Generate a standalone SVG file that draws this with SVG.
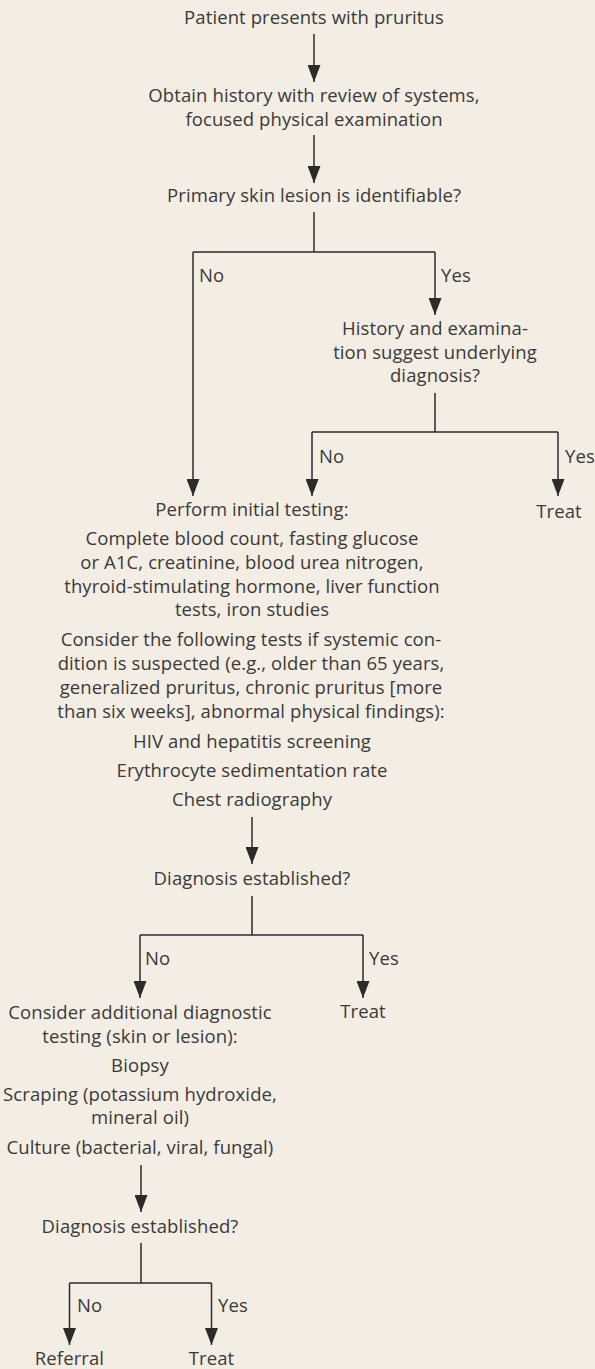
<svg xmlns="http://www.w3.org/2000/svg" width="595" height="1369" viewBox="0 0 595 1369">
<defs>
<style>
text{font-family:"Open Sans","Liberation Sans",sans-serif;font-size:18.5px;letter-spacing:0.1px;fill:#3a3a3a}
.c{text-anchor:middle}
.ln{stroke:#2b2b2b;stroke-width:1.5;fill:none}
.ar{stroke:#2b2b2b;stroke-width:1.5;fill:none;marker-end:url(#ah)}
</style>
<marker id="ah" markerUnits="userSpaceOnUse" viewBox="0 0 17 13" refX="17" refY="6.5" markerWidth="17" markerHeight="13" orient="auto">
<path d="M0,0 L17,6.5 L0,13 z" fill="#2b2b2b"/>
</marker>
</defs>
<rect width="595" height="1369" fill="#f3ede4"/>
<g id="connectors">
<line class="ar" x1="314" y1="34" x2="314" y2="82"/>
<line class="ar" x1="314" y1="135" x2="314" y2="183"/>
<path class="ln" d="M314,212 V252 M193,252 H435"/>
<line class="ar" x1="193" y1="252" x2="193" y2="496"/>
<line class="ar" x1="435" y1="252" x2="435" y2="315"/>
<path class="ln" d="M435,393 V432 M312,432 H558"/>
<line class="ar" x1="312" y1="432" x2="312" y2="496"/>
<line class="ar" x1="558" y1="432" x2="558" y2="496"/>
<line class="ar" x1="252" y1="817" x2="252" y2="864"/>
<path class="ln" d="M252,896 V935 M140,935 H363"/>
<line class="ar" x1="140" y1="935" x2="140" y2="998"/>
<line class="ar" x1="363" y1="935" x2="363" y2="998"/>
<line class="ar" x1="141" y1="1165" x2="141" y2="1212"/>
<path class="ln" d="M141,1243 V1283 M69.5,1283 H211.5"/>
<line class="ar" x1="69.5" y1="1283" x2="69.5" y2="1345"/>
<line class="ar" x1="211.5" y1="1283" x2="211.5" y2="1345"/>
</g>
<g id="labels">
<text x="199" y="282">No</text>
<text x="441" y="282">Yes</text>
<text x="319" y="463">No</text>
<text x="565" y="463">Yes</text>
<text x="145" y="965">No</text>
<text x="369" y="965">Yes</text>
<text x="77" y="1312">No</text>
<text x="218" y="1312">Yes</text>
</g>
<g id="start"><text class="c" x="314" y="24">Patient presents with pruritus</text></g>
<g id="history"><text class="c" x="314" y="102">Obtain history with review of systems,</text><text class="c" x="314" y="126">focused physical examination</text></g>
<g id="lesion"><text class="c" x="314" y="202">Primary skin lesion is identifiable?</text></g>
<g id="suggest"><text class="c" x="435" y="335">History and examina-</text><text class="c" x="435" y="359">tion suggest underlying</text><text class="c" x="435" y="382">diagnosis?</text></g>
<g id="treat1"><text class="c" x="559" y="518">Treat</text></g>
<g id="initial">
<text class="c" x="252" y="516">Perform initial testing:</text>
<text class="c" x="252" y="545">Complete blood count, fasting glucose</text>
<text class="c" x="252" y="569">or A1C, creatinine, blood urea nitrogen,</text>
<text class="c" x="252" y="593">thyroid-stimulating hormone, liver function</text>
<text class="c" x="252" y="616">tests, iron studies</text>
<text class="c" x="251" y="646">Consider the following tests if systemic con-</text>
<text class="c" x="251" y="670">dition is suspected (e.g., older than 65 years,</text>
<text class="c" x="251" y="694">generalized pruritus, chronic pruritus [more</text>
<text class="c" x="251" y="718">than six weeks], abnormal physical findings):</text>
<text class="c" x="252" y="748">HIV and hepatitis screening</text>
<text class="c" x="252" y="777">Erythrocyte sedimentation rate</text>
<text class="c" x="252" y="806">Chest radiography</text>
</g>
<g id="dx1"><text class="c" x="252" y="885">Diagnosis established?</text></g>
<g id="treat2"><text class="c" x="363" y="1018">Treat</text></g>
<g id="additional">
<text class="c" x="140" y="1019">Consider additional diagnostic</text>
<text class="c" x="140" y="1043">testing (skin or lesion):</text>
<text class="c" x="140" y="1072">Biopsy</text>
<text class="c" x="140" y="1101">Scraping (potassium hydroxide,</text>
<text class="c" x="140" y="1124">mineral oil)</text>
<text class="c" x="140" y="1154">Culture (bacterial, viral, fungal)</text>
</g>
<g id="dx2"><text class="c" x="140" y="1233">Diagnosis established?</text></g>
<g id="referral"><text class="c" x="69.5" y="1365">Referral</text></g>
<g id="treat3"><text class="c" x="211.5" y="1365">Treat</text></g>
</svg>
